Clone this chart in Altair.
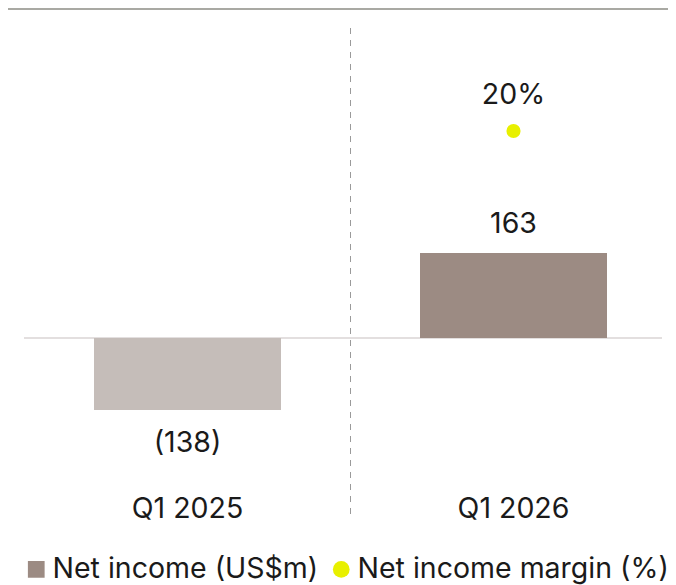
import altair as alt
import pandas as pd

# ---- data ----
categories = ["Q1 2025", "Q1 2026"]
cat_index = [0, 1]
net_income = [-138, 163]
net_income_labels = ["(138)", "163"]
bar_colors = ["#c5bdb9", "#9c8b83"]

margin_periods = ["Q1 2026"]
margin_index = [1]
margin_values = [20]
margin_labels = ["20%"]

series_names = ["Net income (US$m)", "Net income margin (%)"]
series_colors = ["#9c8b83", "#e8f000"]
series_shapes = ["square", "circle"]

FONT = "Inter"
TXT = "#1a1a1a"
FS = 28.5

bars_df = pd.DataFrame({
    "period": categories,
    "idx": cat_index,
    "value": net_income,
    "label": net_income_labels,
    "fill": bar_colors,
})
margin_df = pd.DataFrame({
    "period": margin_periods,
    "idx": margin_index,
    "margin": margin_values,
    "label": margin_labels,
    "series": [series_names[1]],
})

xs = alt.Scale(domain=[-0.5, 1.5], range=[16.5, 668.5], padding=0, nice=False, zero=False)
x = alt.X("idx:Q", scale=xs, axis=None)
ybar_scale = alt.Scale(domain=[-458.3, 632.8], range=[569, 0], nice=False, zero=False, padding=0)
ybar = alt.Y("value:Q", scale=ybar_scale, axis=None)
ymar = alt.Y("margin:Q", scale=alt.Scale(domain=[-23.09, 31.88], range=[569, 0], nice=False, zero=False, padding=0), axis=None)

base = alt.Chart(bars_df)

top_rule = base.mark_rule(color="#a9a9a3", strokeWidth=2).encode(
    x=alt.value(0), x2=alt.value(660), y=alt.value(1)
)
zero_rule = base.mark_rule(color="#e3dfdf", strokeWidth=2).encode(
    x=alt.value(16), x2=alt.value(654),
    y=alt.datum(0, scale=ybar_scale, type="quantitative", axis=None),
)
divider = base.mark_rule(color="#9a9a9a", strokeWidth=1, strokeDash=[6, 6]).encode(
    x=alt.datum(0.5, scale=xs, type="quantitative", axis=None),
    y=alt.value(20), y2=alt.value(510),
)
bars = base.mark_bar(width=187).encode(
    x=x, y=ybar, y2=alt.datum(0), color=alt.Color("fill:N", scale=None)
)
pos_labels = base.transform_filter("datum.value >= 0").mark_text(
    dy=-29, fontSize=FS, font=FONT, color=TXT, baseline="middle"
).encode(x=x, y=ybar, text="label:N")
neg_labels = base.transform_filter("datum.value < 0").mark_text(
    dy=33, fontSize=FS, font=FONT, color=TXT, baseline="middle"
).encode(x=x, y=ybar, text="label:N")
cat_labels = base.mark_text(
    fontSize=FS, font=FONT, color=TXT, baseline="middle"
).encode(x=x, y=alt.value(501), text="period:N")

legend = alt.Legend(
    title=None, orient="none", legendX=14, legendY=547, direction="horizontal",
    labelFontSize=FS, labelFont=FONT, labelColor=TXT, labelLimit=500,
    symbolSize=280, symbolStrokeWidth=0, symbolOpacity=1,
    labelOffset=2, columnPadding=8, padding=0,
)
mbase = alt.Chart(margin_df)
dot = mbase.mark_point(filled=True, size=200, opacity=1, strokeWidth=0).encode(
    x=x, y=ymar,
    color=alt.Color("series:N", scale=alt.Scale(domain=series_names, range=series_colors), legend=legend),
    shape=alt.Shape("series:N", scale=alt.Scale(domain=series_names, range=series_shapes), legend=legend),
)
dot_label = mbase.mark_text(
    dy=-35.5, fontSize=FS, font=FONT, color=TXT, baseline="middle"
).encode(x=x, y=ymar, text="label:N")

chart = alt.layer(
    top_rule, zero_rule, divider, bars, pos_labels, neg_labels, cat_labels, dot, dot_label
).resolve_scale(y="independent").properties(
    width=660, height=577, autosize=alt.AutoSizeParams(type="none"), padding=0
).configure_view(stroke=None)

chart.save("out.html", embed_options={"renderer": "svg", "actions": False})
